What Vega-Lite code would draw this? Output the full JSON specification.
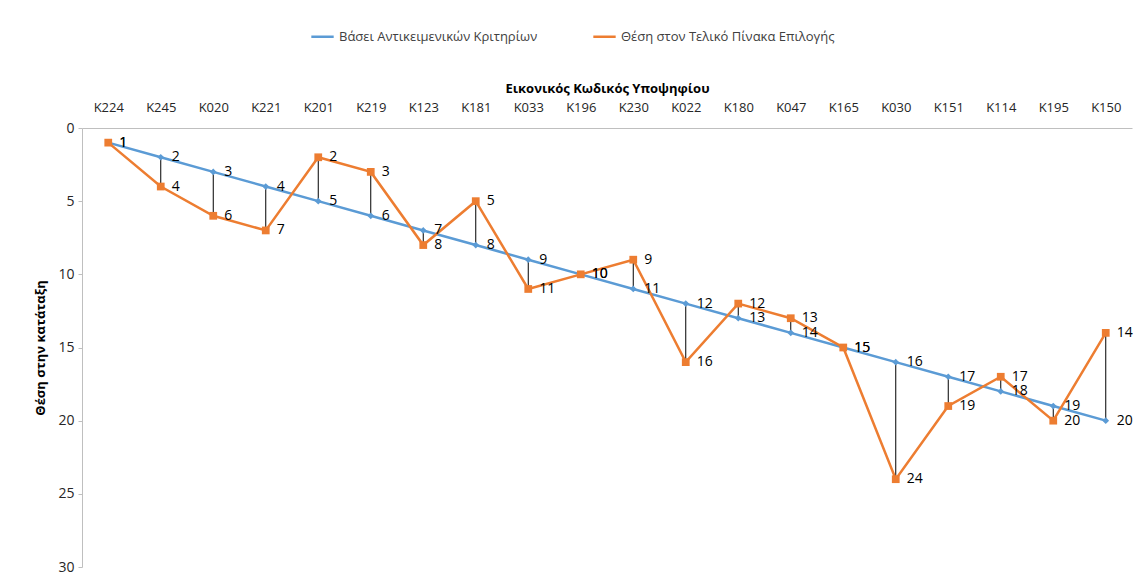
{
  "$schema": "https://vega.github.io/schema/vega-lite/v6.json",
  "width": 1050,
  "height": 439,
  "autosize": {"type": "none"},
  "padding": {"left": 82, "top": 128, "right": 4, "bottom": 12},
  "background": "white",
  "config": {
    "view": {"stroke": null},
    "font": "Open Sans",
    "axis": {"labelFont": "Open Sans", "titleFont": "Open Sans", "labelColor": "#262626", "titleColor": "#000000"},
    "legend": {"labelFont": "Open Sans"}
  },
  "data": {
    "values": [
      {"code": "K224", "base": 1, "final": 1},
      {"code": "K245", "base": 2, "final": 4},
      {"code": "K020", "base": 3, "final": 6},
      {"code": "K221", "base": 4, "final": 7},
      {"code": "K201", "base": 5, "final": 2},
      {"code": "K219", "base": 6, "final": 3},
      {"code": "K123", "base": 7, "final": 8},
      {"code": "K181", "base": 8, "final": 5},
      {"code": "K033", "base": 9, "final": 11},
      {"code": "K196", "base": 10, "final": 10},
      {"code": "K230", "base": 11, "final": 9},
      {"code": "K022", "base": 12, "final": 16},
      {"code": "K180", "base": 13, "final": 12},
      {"code": "K047", "base": 14, "final": 13},
      {"code": "K165", "base": 15, "final": 15},
      {"code": "K030", "base": 16, "final": 24},
      {"code": "K151", "base": 17, "final": 19},
      {"code": "K114", "base": 18, "final": 17},
      {"code": "K195", "base": 19, "final": 20},
      {"code": "K150", "base": 20, "final": 14}
    ]
  },
  "encoding": {
    "x": {
      "field": "code",
      "type": "ordinal",
      "sort": null,
      "scale": {"type": "point", "padding": 0.5},
      "axis": {
        "orient": "top",
        "title": "Εικονικός Κωδικός Υποψηφίου",
        "titleFontWeight": "bold",
        "titleFontSize": 13,
        "titlePadding": 6,
        "labelAngle": 0,
        "labelFontSize": 13,
        "labelPadding": 14,
        "ticks": false,
        "domainColor": "#BFBFBF",
        "grid": false
      }
    }
  },
  "layer": [
    {
      "mark": {"type": "rule", "color": "#000000", "strokeWidth": 1},
      "encoding": {
        "y": {"field": "base", "type": "quantitative"},
        "y2": {"field": "final"}
      }
    },
    {
      "transform": [
        {"fold": ["base", "final"], "as": ["key", "value"]},
        {"lookup": "key", "from": {"data": {"values": [
          {"key": "base", "series": "Βάσει Αντικειμενικών Κριτηρίων"},
          {"key": "final", "series": "Θέση στον Τελικό Πίνακα Επιλογής"}
        ]}, "key": "key", "fields": ["series"]}}
      ],
      "encoding": {
        "y": {
          "field": "value",
          "type": "quantitative",
          "scale": {"domain": [0, 30], "reverse": true, "nice": false},
          "axis": {
            "title": "Θέση στην κατάταξη",
            "titleFontWeight": "bold",
            "titleFontSize": 13,
            "titlePadding": 10,
            "values": [0, 5, 10, 15, 20, 25, 30],
            "labelFontSize": 14,
            "labelPadding": 4,
            "tickSize": 4,
            "tickColor": "#BFBFBF",
            "domainColor": "#BFBFBF",
            "grid": false
          }
        },
        "color": {
          "field": "series",
          "type": "nominal",
          "scale": {
            "domain": ["Βάσει Αντικειμενικών Κριτηρίων", "Θέση στον Τελικό Πίνακα Επιλογής"],
            "range": ["#5B9BD5", "#ED7D31"]
          },
          "legend": {
            "title": null,
            "orient": "none",
            "direction": "horizontal",
            "legendX": 228,
            "legendY": -104,
            "symbolType": "stroke",
            "symbolStrokeWidth": 2.5,
            "symbolSize": 500,
            "labelFontSize": 13,
            "labelLimit": 0,
            "labelColor": "#404040",
            "columnPadding": 50,
            "labelOffset": 4
          }
        }
      },
      "layer": [
        {"mark": {"type": "line", "strokeWidth": 2.5}},
        {
          "transform": [{"filter": "datum.key === 'base'"}],
          "mark": {"type": "point", "filled": true, "opacity": 1, "shape": "diamond", "size": 45}
        },
        {
          "transform": [{"filter": "datum.key === 'final'"}],
          "mark": {"type": "point", "filled": true, "opacity": 1, "shape": "square", "size": 60}
        },
        {
          "mark": {"type": "text", "align": "left", "baseline": "middle", "dx": 11, "fontSize": 14, "color": "#000000"},
          "encoding": {
            "text": {"field": "value", "type": "quantitative"},
            "color": {"value": "#000000"}
          }
        }
      ]
    }
  ]
}
